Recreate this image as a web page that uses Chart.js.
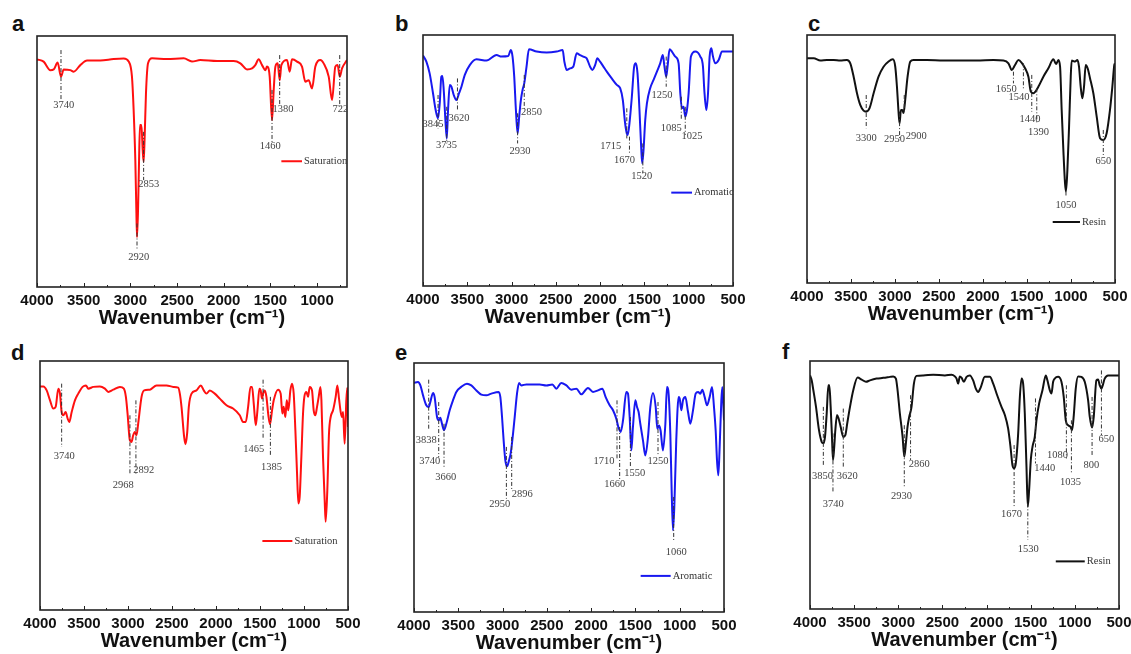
<!DOCTYPE html>
<html><head><meta charset="utf-8">
<script src="https://cdn.jsdelivr.net/npm/chart.js@4.4.1/dist/chart.umd.min.js"></script>
<style>
html,body{margin:0;padding:0;background:#fff;overflow:hidden;width:1131px;height:654px;}
canvas{position:absolute;}
.lt{position:absolute;font:bold 22px "Liberation Sans",Arial,sans-serif;line-height:22px;color:#111;}
</style></head><body>
<div class="lt" style="left:12px;top:13px">a</div>
<div class="lt" style="left:395px;top:13px">b</div>
<div class="lt" style="left:808px;top:13px">c</div>
<div class="lt" style="left:11px;top:342px">d</div>
<div class="lt" style="left:395px;top:342px">e</div>
<div class="lt" style="left:782px;top:341px">f</div>
<canvas id="ca"></canvas><canvas id="cb"></canvas><canvas id="cc"></canvas>
<canvas id="cd"></canvas><canvas id="ce"></canvas><canvas id="cf"></canvas>
<script>
// ---------- DATA ----------
const ticksFull = [4000,3500,3000,2500,2000,1500,1000,500];
const ticksA = [4000,3500,3000,2500,2000,1500,1000];

// a: Saturation
const wnA = [4000,3929,3857,3821,3779,3743,3714,3643,3607,3536,3464,3322,3179,3072,3018,2983,2965,2947,2936,2929,2918,2907,2897,2882,2868,2858,2847,2833,2811,2768,2608,2429,2340,2251,2072,1894,1822,1751,1697,1662,1626,1590,1554,1537,1508,1483,1465,1447,1422,1401,1383,1322,1294,1269,1215,1162,1126,1090,1055,1019,965,930,876,840,805,780,758,733,680];
const trA = [90.7,89.8,86.4,86.7,89.4,83.8,86.7,86.4,85.8,88.4,90.2,90.2,90.8,91.0,89.8,83.8,70.5,50.5,30.6,19.9,30.6,50.5,64.5,64.5,54.5,49.9,59.8,77.1,89.1,91.1,90.8,91.1,89.8,90.4,90.0,90.0,89.1,86.7,87.1,88.4,90.7,88.4,86.4,87.8,83.8,66.5,78.5,87.8,89.1,82.4,88.4,90.4,85.8,90.7,89.8,87.8,81.8,82.4,79.1,87.8,90.4,89.1,83.8,74.5,87.8,88.4,83.8,87.1,90.4];

// b: Aromatic
const wnB = [4000,3962,3925,3887,3857,3830,3811,3793,3781,3766,3747,3732,3717,3698,3679,3653,3623,3593,3566,3528,3472,3396,3283,3170,3114,3038,3008,2989,2970,2951,2932,2914,2895,2876,2857,2831,2804,2717,2604,2491,2423,2404,2378,2340,2303,2265,2227,2190,2152,2114,2088,2057,2031,2001,1963,1925,1869,1812,1774,1744,1718,1699,1688,1669,1642,1616,1597,1578,1556,1537,1525,1510,1491,1472,1435,1397,1359,1322,1292,1276,1254,1239,1216,1190,1152,1114,1095,1077,1058,1039,1020,1001,975,926,869,839,824,801,782,764,745,726,700,662,624,500];
const trB = [91.8,89.4,84.7,76.8,70.1,66.8,72.8,83.4,83.7,78.1,66.1,58.8,70.1,80.1,79.4,76.1,74.1,76.8,79.4,84.1,88.0,90.3,89.8,92.0,91.4,91.6,94.0,91.4,83.4,70.1,60.8,67.5,74.1,78.1,80.7,87.4,94.3,93.4,93.0,93.4,94.0,89.4,86.1,86.7,87.4,92.7,92.0,91.4,90.7,87.4,86.1,88.0,90.7,89.4,87.4,85.4,82.7,80.1,78.8,74.1,64.8,60.8,60.2,64.8,75.4,87.4,88.7,84.7,70.1,55.5,48.9,54.2,66.1,72.8,78.8,82.1,85.4,88.7,92.0,88.0,83.4,87.4,94.3,93.4,91.4,88.7,76.8,70.8,71.4,67.5,70.1,76.8,91.4,93.4,91.4,87.4,78.1,70.1,76.8,91.4,94.7,91.4,88.7,90.0,93.4,93.4];

// c: Resin
const wnC = [4000,3924,3849,3773,3697,3622,3546,3508,3470,3432,3395,3357,3327,3289,3243,3187,3130,3073,3024,2997,2978,2960,2948,2933,2918,2903,2884,2857,2827,2789,2638,2449,2260,2070,1881,1768,1711,1673,1636,1598,1560,1522,1484,1457,1427,1404,1370,1314,1257,1200,1170,1143,1124,1106,1087,1068,1057,1041,1022,1003,992,954,927,909,890,871,852,833,811,784,746,708,670,633,595,557,530,508,500];
const trC = [90.6,90.6,89.7,89.9,89.9,89.7,89.9,88.6,83.2,76.5,71.8,69.5,69.1,70.5,76.5,83.2,87.2,89.3,90.2,87.2,79.2,69.1,64.4,69.8,69.8,68.5,73.8,83.2,89.3,89.9,89.9,89.7,89.7,89.7,89.9,89.7,88.6,85.9,87.9,89.9,88.8,86.6,83.2,77.2,76.5,77.2,79.2,83.2,86.6,90.2,88.3,89.9,87.2,69.8,53.7,40.3,36.9,45.6,63.1,83.2,89.7,89.3,89.9,87.2,79.2,74.5,79.2,87.9,86.6,82.6,76.5,67.1,58.4,57.7,60.4,69.8,79.2,87.9,88.6];

// d: Saturation
const wnD = [4000,3962,3924,3886,3849,3822,3792,3773,3754,3735,3709,3686,3667,3640,3603,3565,3516,3478,3451,3395,3319,3262,3224,3168,3092,3047,3024,3005,2979,2960,2941,2922,2903,2884,2846,2816,2751,2676,2562,2486,2430,2411,2392,2362,2347,2328,2309,2278,2222,2173,2139,2108,2070,2014,1957,1881,1806,1730,1692,1662,1635,1608,1590,1571,1548,1529,1507,1492,1477,1465,1446,1427,1405,1386,1363,1344,1295,1265,1246,1231,1212,1196,1178,1155,1136,1117,1098,1079,1064,1049,1030,1011,996,973,954,935,909,890,871,852,833,813,802,784,765,754,735,716,697,670,640,621,602,583,568,556,538,519,508,500];
const trD = [89.8,89.8,88.2,84.2,80.9,81.6,88.9,86.9,79.5,78.2,79.5,76.9,75.5,79.5,84.2,86.9,89.6,90.2,88.9,89.6,89.8,88.9,87.6,88.5,89.6,88.9,85.6,78.9,68.2,67.5,70.2,71.5,70.2,74.9,85.6,88.2,88.5,90.2,90.2,89.6,89.3,86.9,81.6,69.5,66.6,70.9,81.6,86.9,88.2,90.2,88.2,86.9,88.2,86.9,84.9,82.2,80.9,78.2,75.5,75.5,81.6,89.6,89.6,82.9,74.2,80.2,88.9,88.2,84.9,86.9,88.2,85.6,78.2,74.6,80.2,84.2,88.5,86.9,78.9,81.6,77.5,84.2,80.2,88.2,90.9,86.9,72.2,54.8,42.8,45.5,61.5,78.9,85.6,87.6,85.6,89.6,88.2,80.2,78.2,81.6,85.6,89.6,84.2,61.5,44.1,35.4,48.1,70.9,77.5,80.2,85.6,90.2,84.9,79.5,77.5,79.5,66.8,84.2,89.3,73.5];

// e: Aromatic
const wnE = [4000,3955,3928,3898,3861,3834,3816,3785,3767,3740,3721,3703,3684,3661,3635,3597,3560,3522,3466,3402,3353,3296,3240,3183,3127,3044,3025,3006,2988,2969,2950,2927,2909,2890,2863,2837,2814,2788,2732,2656,2581,2506,2438,2393,2337,2280,2224,2167,2111,2036,1979,1923,1874,1836,1791,1753,1716,1693,1667,1640,1603,1584,1565,1546,1528,1501,1482,1464,1445,1415,1388,1358,1332,1302,1271,1253,1234,1216,1189,1162,1144,1129,1106,1091,1076,1061,1039,1012,1000,982,963,936,906,880,850,820,793,767,745,718,692,662,635,613,594,579,564,549,530,519,500];
const trE = [92.0,92.4,91.0,87.0,83.0,82.3,84.3,88.0,86.3,78.3,77.0,78.0,75.6,73.0,75.6,81.0,85.0,88.4,90.4,91.7,91.0,89.0,87.3,87.0,87.7,88.4,86.3,78.3,68.9,60.9,58.5,60.9,63.6,68.9,78.3,87.7,92.0,91.0,91.4,91.4,91.4,91.0,91.4,89.7,92.0,91.0,89.3,89.7,87.4,90.0,88.4,89.0,89.7,86.3,83.0,81.0,77.6,74.3,72.3,77.0,88.4,87.7,78.3,64.9,74.3,85.0,82.3,80.3,75.6,68.9,62.9,70.3,82.3,88.0,82.3,73.6,74.9,72.9,64.9,75.6,90.4,89.0,71.6,48.9,32.8,42.2,68.9,86.3,85.7,81.0,85.0,86.3,80.3,75.6,81.0,87.7,88.4,87.7,89.3,86.3,83.0,86.3,90.4,82.3,72.9,60.9,54.9,66.3,85.0,90.4,77.0];

// f: Resin
const wnF = [4000,3981,3962,3932,3898,3868,3849,3830,3811,3792,3781,3766,3751,3740,3728,3713,3694,3676,3653,3623,3600,3578,3547,3510,3461,3415,3366,3321,3246,3170,3095,3057,3027,3008,2982,2951,2932,2914,2895,2876,2850,2823,2793,2718,2604,2472,2397,2359,2340,2322,2303,2284,2257,2227,2189,2152,2122,2095,2065,2020,1963,1925,1880,1831,1793,1756,1729,1707,1688,1669,1642,1623,1604,1586,1567,1548,1533,1518,1499,1480,1454,1435,1405,1367,1329,1311,1284,1265,1246,1228,1190,1152,1126,1103,1077,1050,1031,1012,990,963,926,888,850,831,805,786,756,737,718,699,662,624,500];
const trF = [94.2,92.2,88.2,81.5,72.1,67.4,66.8,69.4,78.8,90.2,90.2,81.5,69.4,60.1,64.1,72.1,78.2,76.8,73.5,69.4,70.1,74.9,81.5,88.2,93.3,92.5,91.6,92.2,92.9,93.2,93.6,93.8,92.9,88.2,78.8,69.4,61.4,66.8,73.5,77.5,81.5,90.9,94.0,94.2,94.5,94.2,94.5,93.8,92.9,90.9,93.8,93.3,91.6,93.6,94.2,92.2,88.9,87.5,89.5,93.6,93.6,90.9,86.2,81.5,78.2,72.8,65.4,58.0,56.7,58.7,70.8,85.5,92.9,90.9,78.8,57.4,41.3,48.0,60.1,65.4,69.4,76.1,82.8,88.2,94.2,92.2,88.2,86.9,91.6,92.9,93.6,91.6,85.5,76.1,74.1,73.5,72.1,78.2,88.9,93.8,93.6,91.6,84.2,77.5,73.2,77.5,92.2,92.5,90.2,88.9,92.9,94.2,94.2];

// peak marks: [wavenumber, line top, line bottom, label, label wavenumber, label level]
const peaksA = [[3743,94.4,74.5,'3740',3714,72.5],[2929,25.3,15.3,'2920',2911,12.0],[2858,61.8,42.6,'2853',2804,40.8],[1483,78.5,57.8,'1460',1501,56.1],[1401,92.4,72.5,'1380',1365,70.9],[758,92.4,71.8,'722',751,70.7]];
const peaksB = [[3830,76.1,62.8,'3845',3887,64.4],[3732,71.4,56.8,'3735',3736,56.2],[3611,82.7,70.1,'3620',3593,66.8],[2932,68.8,56.8,'2930',2906,53.5],[2857,84.1,70.1,'2850',2774,69.2],[1699,70.8,58.8,'1715',1880,55.5],[1669,59.5,52.6,'1670',1725,50.2],[1518,56.8,44.9,'1520',1529,43.8],[1254,91.4,79.4,'1250',1303,76.1],[1084,75.4,66.1,'1085',1197,62.8],[1039,71.4,60.2,'1025',963,59.5]];
const peaksC = [[3327,75.8,62.4,'3300',3327,58.4],[2948,68.5,57.7,'2950',3005,58.1],[2895,75.8,69.1,'2900',2759,59.3],[1654,85.2,80.5,'1650',1737,78.3],[1541,88.6,77.9,'1540',1590,74.9],[1446,83.9,69.1,'1440',1465,66.2],[1389,78.5,64.4,'1390',1370,60.7],[1057,36.9,34.6,'1050',1057,31.5],[633,61.7,51.0,'650',633,49.0]];
const peaksD = [[3754,90.9,65.5,'3740',3724,61.9],[2978,78.2,54.1,'2968',3054,49.9],[2910,84.2,54.8,'2892',2820,56.1],[1465,92.5,68.9,'1465',1571,64.4],[1382,85.6,62.2,'1385',1370,57.2]];
const peaksE = [[3834,93.3,73.0,'3838',3861,68.9],[3721,84.3,62.2,'3740',3823,60.6],[3661,75.6,57.6,'3660',3642,54.2],[2957,66.3,45.5,'2950',3033,43.1],[2897,70.3,48.9,'2896',2777,47.3],[1708,85.0,60.9,'1710',1855,60.6],[1678,74.3,52.9,'1660',1734,51.3],[1557,78.3,58.2,'1550',1509,55.8],[1245,84.3,62.9,'1250',1245,60.4],[1068,46.2,28.8,'1060',1038,23.8]];
const peaksF = [[3849,81.5,58.0,'3850',3857,53.4],[3740,70.8,46.6,'3740',3736,42.4],[3623,80.8,57.4,'3620',3578,53.4],[2932,74.1,49.3,'2930',2963,45.6],[2861,86.2,60.1,'2860',2763,58.3],[1688,66.1,41.3,'1670',1718,38.3],[1533,42.6,27.9,'1530',1529,24.1],[1446,84.9,58.7,'1440',1341,56.7],[1096,90.2,60.7,'1080',1197,62.1],[1039,76.1,54.7,'1035',1050,51.3],[805,85.5,61.4,'800',813,57.8],[699,96.2,70.1,'650',643,68.4]];

// legend entries: [name, line start wn, line end wn, level]
const legendA = ['Saturation',1383,1162,50.1];
const legendB = ['Aromatic',1197,963,37.2];
const legendC = ['Resin',1208,898,24.6];
const legendD = ['Saturation',1473,1132,27.7];
const legendE = ['Aromatic',1441,1102,14.5];
const legendF = ['Resin',1216,888,19.2];

// ---------- DRAWING ----------
const boxPlugin = {
  id: 'ftirBox',
  afterDatasetsDraw(chart) {
    const o = chart.options.plugins.ftirBox;
    const {ctx, chartArea: a, scales: {x, y}} = chart;
    ctx.save();
    ctx.strokeStyle = '#222'; ctx.lineWidth = 1.6; ctx.setLineDash([]);
    ctx.strokeRect(a.left, a.top, a.right - a.left, a.bottom - a.top);
    ctx.lineWidth = 1;
    for (let v = 500; v <= 4000; v += 250) {
      if (v < x.min || v > x.max) continue;
      const px = Math.round(x.getPixelForValue(v)) + 0.5;
      const len = v % 500 === 0 ? 4 : 2;
      ctx.beginPath(); ctx.moveTo(px, a.bottom); ctx.lineTo(px, a.bottom - len); ctx.stroke();
    }
    ctx.font = '10.5px "Liberation Serif", "Times New Roman", serif';
    ctx.textAlign = 'center'; ctx.textBaseline = 'middle';
    o.peaks.forEach(p => {
      const px = x.getPixelForValue(p[0]);
      ctx.strokeStyle = '#333'; ctx.lineWidth = 1; ctx.setLineDash([4, 2, 1, 2]);
      ctx.beginPath(); ctx.moveTo(px, y.getPixelForValue(p[1])); ctx.lineTo(px, y.getPixelForValue(p[2])); ctx.stroke();
      ctx.fillStyle = '#444';
      ctx.fillText(p[3], x.getPixelForValue(p[4]), y.getPixelForValue(p[5]));
    });
    const lg = o.legend;
    ctx.setLineDash([]);
    ctx.strokeStyle = o.color; ctx.lineWidth = 2;
    const ly = y.getPixelForValue(lg[3]);
    const x1 = x.getPixelForValue(lg[1]), x2 = x.getPixelForValue(lg[2]);
    ctx.beginPath(); ctx.moveTo(x1, ly); ctx.lineTo(x2, ly); ctx.stroke();
    ctx.fillStyle = '#333'; ctx.textAlign = 'left';
    ctx.fillText(lg[0], x2 + 2, ly);
    ctx.restore();
  }
};

function makePanel(id, box, wn, tr, color, xmin, ticks, peaks, legend) {
  const padL = 30, padR = 25, padT = 5, axisH = 43;
  const cv = document.getElementById(id);
  const w = padL + (box[2] - box[0]) + padR;
  const h = padT + (box[3] - box[1]) + axisH;
  cv.width = w; cv.height = h;
  cv.style.left = (box[0] - padL) + 'px';
  cv.style.top = (box[1] - padT) + 'px';
  const pts = wn.map((v, i) => ({x: v, y: tr[i]}));
  new Chart(cv, {
    type: 'line',
    data: {datasets: [{label: legend[0], data: pts, borderColor: color, borderWidth: 2,
      pointRadius: 0, fill: false, cubicInterpolationMode: 'monotone'}]},
    options: {
      responsive: false, animation: false, devicePixelRatio: 1,
      layout: {padding: {left: padL, right: padR, top: padT, bottom: 0}},
      plugins: {legend: {display: false}, tooltip: {enabled: false},
        ftirBox: {peaks: peaks, legend: legend, color: color}},
      scales: {
        x: {type: 'linear', reverse: true, min: xmin, max: 4000,
          grid: {display: false, drawTicks: false}, border: {display: false},
          afterBuildTicks: s => { s.ticks = ticks.filter(v => v >= xmin).map(v => ({value: v})); },
          afterFit: s => { s.height = axisH; },
          ticks: {color: '#111', padding: 5, maxRotation: 0, autoSkip: false,
            callback: v => String(v),
            font: {family: '"Liberation Sans", Arial, sans-serif', weight: 'bold', size: 15}},
          title: {display: true, text: 'Wavenumber (cm\u207B\u00B9)', color: '#111', padding: 0,
            font: {family: '"Liberation Sans", Arial, sans-serif', weight: 'bold', size: 20}}},
        y: {display: false, min: 0, max: 100}
      }
    },
    plugins: [boxPlugin]
  });
}

makePanel('ca', [37, 36, 347, 287], wnA, trA, '#ff1010', 680, ticksA, peaksA, legendA);
makePanel('cb', [423, 35, 733, 286], wnB, trB, '#1818f0', 500, ticksFull, peaksB, legendB);
makePanel('cc', [807, 35, 1115, 283], wnC, trC, '#111111', 500, ticksFull, peaksC, legendC);
makePanel('cd', [40, 361, 348, 610], wnD, trD, '#ff1010', 500, ticksFull, peaksD, legendD);
makePanel('ce', [414, 363, 724, 612], wnE, trE, '#1818f0', 500, ticksFull, peaksE, legendE);
makePanel('cf', [810, 361, 1119, 609], wnF, trF, '#111111', 500, ticksFull, peaksF, legendF);
</script>
</body></html>
